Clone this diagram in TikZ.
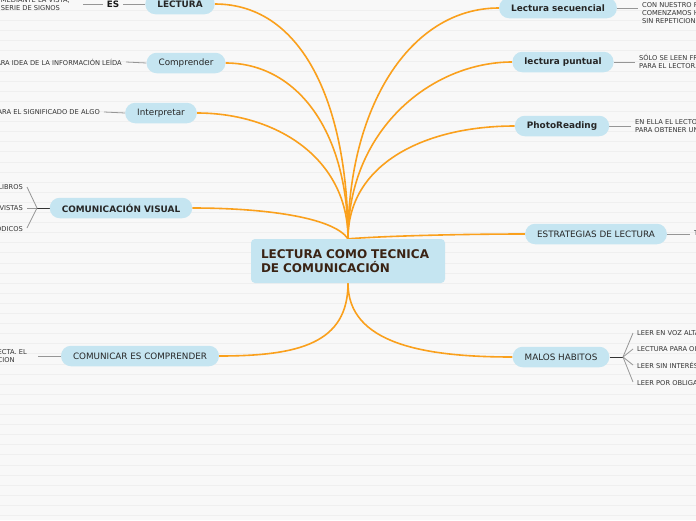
\documentclass[tikz,border=0pt]{standalone}
\usepackage{fontspec}
\setmainfont{DejaVu Sans}
\definecolor{pill}{RGB}{197,229,241}
\definecolor{orng}{RGB}{250,160,28}
\definecolor{gline}{RGB}{150,150,150}
\definecolor{bgc}{RGB}{248,248,248}
\definecolor{gridc}{RGB}{239,239,239}
\definecolor{ctext}{RGB}{58,35,20}
\pgfdeclarelayer{bglayer}
\pgfdeclarelayer{edgelayer}
\pgfsetlayers{bglayer,edgelayer,main}
\begin{document}
\begin{tikzpicture}[x=1pt,y=-1pt,
 pillbox/.style={fill=pill, rounded corners=10pt, minimum height=20.5pt, inner xsep=12pt, inner ysep=0pt, font=\fontsize{8.8}{10}\selectfont, text=black!85},
 boldpill/.style={pillbox, font=\fontsize{8.9}{10}\selectfont\bfseries},
 centerbox/.style={fill=pill, rounded corners=4pt, text width=174pt, inner xsep=10pt, minimum height=44pt, align=left, font=\fontsize{12}{14}\selectfont\bfseries, text=ctext},
 desc/.style={font=\fontsize{6.7}{8}\selectfont, text=black!80, align=left, inner xsep=4pt, inner ysep=1pt},
 conn/.style={draw=orng, line width=1.6pt},
 leafline/.style={draw=gline, line width=0.8pt},
 forkline/.style={draw=black!80, line width=1pt}]
\useasboundingbox (0,0) rectangle (696,520);
\begin{pgfonlayer}{bglayer}
\fill[bgc] (0,0) rectangle (696,520);
\foreach \i in {0,...,51} \draw[gridc, line width=0.5pt] (0,{10.3+10.1*\i}) -- (696,{10.3+10.1*\i});
\end{pgfonlayer}

% central
\node[centerbox] (center) at (348,261) {LECTURA COMO TECNICA\\DE COMUNICACIÓN};

% left
\node[boldpill] (lect) at (180,4) {LECTURA};
\node[font=\fontsize{8.8}{10}\selectfont\bfseries, inner xsep=4pt, text=black!90] (es) at (113,4) {ES};
\node[desc, anchor=east] (lectdesc) at (74,4) {MEDIANTE LA VISTA,\\SERIE DE SIGNOS};
\node[pillbox] (compr) at (186,63) {Comprender};
\node[desc, anchor=east] (comprdesc) at (126,62) {CLARA IDEA DE LA INFORMACIÓN LEÍDA};
\node[pillbox] (interp) at (161,113) {Interpretar};
\node[desc, anchor=east] (interpdesc) at (104,112) {ACLARA EL SIGNIFICADO DE ALGO};
\node[boldpill] (cv) at (121,208) {COMUNICACIÓN VISUAL};
\coordinate (cvfork) at (37,208);
\node[desc, anchor=east] (libros) at (27,187) {LIBROS};
\node[desc, anchor=east] (revistas) at (27,208) {REVISTAS};
\node[desc, anchor=east] (periodicos) at (27,228) {PERIÓDICOS};
\node[pillbox] (comp) at (140,356) {COMUNICAR ES COMPRENDER};
\node[desc, anchor=east] (compdesc) at (31,356) {ECTA. EL\\CION};

% right
\node[boldpill] (sec) at (558,8) {Lectura secuencial};
\node[desc, anchor=west] (secdesc) at (638,13) {CON NUESTRO PROPIO RITMO,\\COMENZAMOS HASTA EL FINAL\\SIN REPETICIONES};
\node[boldpill] (punt) at (563,62) {lectura puntual};
\node[desc, anchor=west] (puntdesc) at (635,61) {SÓLO SE LEEN FRAGMENTOS\\PARA EL LECTOR.};
\node[boldpill] (photo) at (562,126) {PhotoReading};
\node[desc, anchor=west] (photodesc) at (631,126) {EN ELLA EL LECTOR\\PARA OBTENER UNA};
\node[pillbox] (estr) at (596,234) {ESTRATEGIAS DE LECTURA};
\node[desc, anchor=west] (tipos) at (690,233) {TIPOS};
\node[pillbox] (malos) at (561,357) {MALOS HABITOS};
\coordinate (mfork) at (623,357);
\node[desc, anchor=west] (m1) at (633,333) {LEER EN VOZ ALTA};
\node[desc, anchor=west] (m2) at (633,349) {LECTURA PARA OIR};
\node[desc, anchor=west] (m3) at (633,365) {LEER SIN INTERÉS};
\node[desc, anchor=west] (m4) at (633,382) {LEER POR OBLIGACIÓN};

\begin{pgfonlayer}{edgelayer}
% orange connectors
\draw[conn] (center.north) .. controls +(0,-130) and +(90,0) .. (lect.east);
\draw[conn] (center.north) .. controls +(0,-110) and +(70,0) .. (compr.east);
\draw[conn] (center.north) .. controls +(0,-80) and +(80,0) .. (interp.east);
\draw[conn] (center.north) .. controls +(-15,-22) and +(70,0) .. (cv.east);
\draw[conn] (center.south) .. controls +(0,60) and +(80,0) .. (comp.east);
\draw[conn] (center.north) .. controls +(0,-130) and +(-90,0) .. (sec.west);
\draw[conn] (center.north) .. controls +(0,-110) and +(-80,0) .. (punt.west);
\draw[conn] (center.north) .. controls +(0,-75) and +(-90,0) .. (photo.west);
\draw[conn] (center.north) .. controls +(40,-3) and +(-60,0) .. (estr.west);
\draw[conn] (center.south) .. controls +(0,60) and +(-90,0) .. (malos.west);
% grey leaf lines
\draw[leafline] (lect.west) -- (es.east);
\draw[leafline, shorten <=9pt] (lectdesc.east) -- (es.west);
\draw[leafline] (compr.west) -- (comprdesc.east);
\draw[leafline] (interp.west) -- (interpdesc.east);
\draw[forkline] (cv.west) -- (cvfork);
\draw[leafline] (cvfork) -- (libros.east);
\draw[leafline] (cvfork) -- (revistas.east);
\draw[leafline] (cvfork) -- (periodicos.east);
\draw[leafline, shorten >=7pt] (comp.west) -- (compdesc.east);
\draw[leafline] (sec.east) -- (sec.east -| secdesc.west);
\draw[leafline] (punt.east) -- (punt.east -| puntdesc.west);
\draw[leafline] (photo.east) -- (photodesc.west);
\draw[leafline] (estr.east) -- (estr.east -| tipos.west);
\draw[forkline] (malos.east) -- (mfork);
\draw[leafline] (mfork) -- (m1.west);
\draw[leafline] (mfork) -- (m2.west);
\draw[leafline] (mfork) -- (m3.west);
\draw[leafline] (mfork) -- (m4.west);
\end{pgfonlayer}
\end{tikzpicture}
\end{document}
